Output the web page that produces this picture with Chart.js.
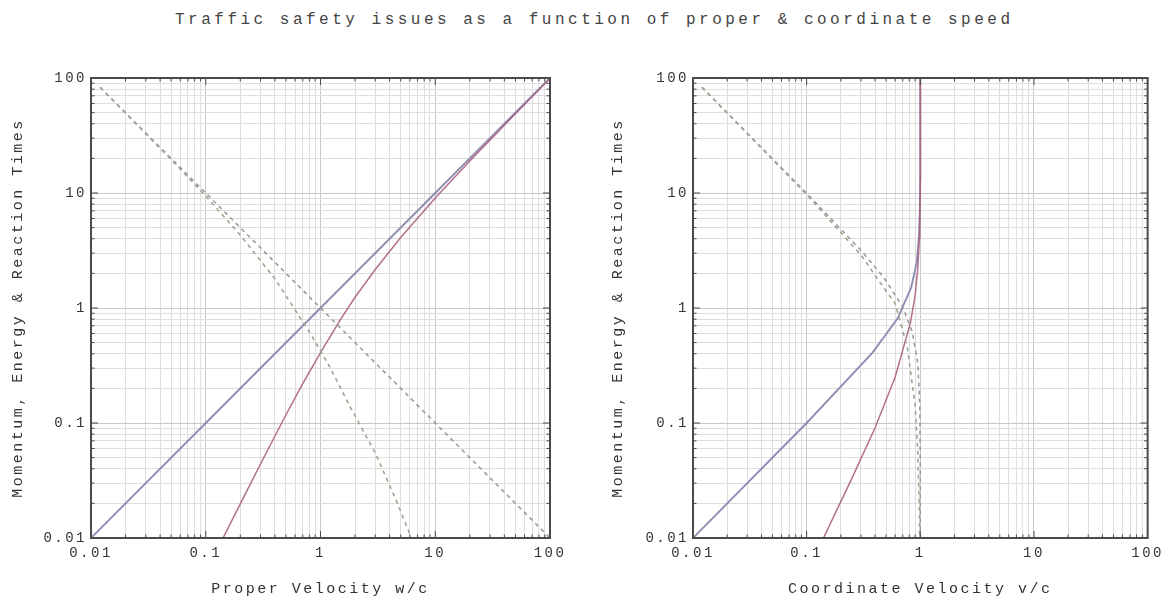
<!DOCTYPE html>
<html><head><meta charset="utf-8">
<script src="https://cdn.jsdelivr.net/npm/chart.js@4.4.1/dist/chart.umd.min.js"></script>
<style>
html,body{margin:0;padding:0;background:#fff;width:1171px;height:602px;overflow:hidden;position:relative}
#title{position:absolute;left:175px;top:12px;font:16px/16px "Liberation Mono",monospace;letter-spacing:3.5px;color:#444;white-space:nowrap}
canvas{position:absolute;top:0}
</style></head><body>
<div id="title">Traffic safety issues as a function of proper &amp; coordinate speed</div>
<canvas id="left" width="585" height="602" style="left:0"></canvas>
<canvas id="right" width="586" height="602" style="left:585px"></canvas>
<script>
// ---- tick values / labels ----
const decadeTicks = [0.01, 0.1, 1, 10, 100];
const tickLabels = ['0.01', '0.1', '1', '10', '100'];
const minorMultipliers = [1, 2, 3, 4, 5, 6, 7, 8, 9];
const yTitle = 'Momentum, Energy & Reaction Times';
const leftXTitle = 'Proper Velocity w/c';
const rightXTitle = 'Coordinate Velocity v/c';

// ---- left panel: proper velocity w/c ----
const leftMomentumX = [0.01, 0.1, 1, 10, 100];
const leftMomentumY = [0.01, 0.1, 1, 10, 100];
const leftEnergyX = [0.14, 0.2, 0.3, 0.5, 0.7, 1, 1.5, 2, 3, 5, 10, 20, 50, 100];
const leftEnergyY = [0.0098, 0.0198, 0.044, 0.118, 0.22, 0.41, 0.80, 1.24, 2.16, 4.1, 9.05, 19, 49, 99];
const leftTimeAX = [0.012, 0.1, 1, 10, 100];
const leftTimeAY = [83, 10, 1, 0.1, 0.01];
const leftTimeBX = [0.012, 0.05, 0.1, 0.2, 0.4, 0.8, 1.2, 1.8, 3, 4.5, 6.2];
const leftTimeBY = [83, 19.5, 9.4, 4.3, 1.8, 0.62, 0.31, 0.14, 0.055, 0.022, 0.01];

// ---- right panel: coordinate velocity v/c ----
const rightMomentumX = [0.01, 0.1, 0.38, 0.63, 0.83, 0.93, 0.97, 0.99, 0.997, 0.9995, 0.99995];
const rightMomentumY = [0.01, 0.1, 0.41, 0.81, 1.5, 2.5, 4.0, 7.0, 12.9, 31.6, 100];
const rightEnergyX = [0.14, 0.25, 0.4, 0.6, 0.82, 0.9, 0.95, 0.98, 0.99, 0.995, 0.999, 0.9999, 0.99995];
const rightEnergyY = [0.0099, 0.033, 0.091, 0.25, 0.75, 1.29, 2.2, 4.03, 6.09, 9.0, 21.4, 69.7, 99];
const rightTimeAX = [0.012, 0.1, 0.3, 0.48, 0.7, 0.85, 0.95, 0.99, 0.999, 0.9999, 0.99995];
const rightTimeAY = [83, 9.95, 3.18, 1.83, 1.02, 0.62, 0.33, 0.142, 0.045, 0.0141, 0.01];
const rightTimeBX = [0.012, 0.1, 0.3, 0.5, 0.6, 0.77, 0.9, 0.95, 0.98, 0.99];
const rightTimeBY = [83, 9.7, 2.9, 1.4, 1.1, 0.45, 0.14, 0.057, 0.018, 0.0075];

const gridValues = decadeTicks.slice(0, -1)
  .flatMap(d => minorMultipliers.map(m => +(d * m).toPrecision(3)))
  .concat([decadeTicks[decadeTicks.length - 1]]);

function isMajor(v) { return decadeTicks.some(d => Math.abs(d - v) / d < 1e-6); }
function labelFor(v) {
  const i = decadeTicks.findIndex(d => Math.abs(d - v) / d < 1e-6);
  return i >= 0 ? tickLabels[i] : '';
}
function pts(xs, ys) { return xs.map((x, i) => ({ x: x, y: ys[i] })); }

const COL_MOM = 'rgba(130,130,172,0.9)';
const COL_EN = 'rgba(172,96,124,0.9)';
const COL_TA = '#9a9a9a';
const COL_TB = '#9ca68c';

function datasets(mx, my, ex, ey, ax, ay, bx, by) {
  return [
    { data: pts(bx, by), borderColor: COL_TB, borderWidth: 1.6, borderDash: [4, 4] },
    { data: pts(ax, ay), borderColor: COL_TA, borderWidth: 1.6, borderDash: [4, 4] },
    { data: pts(ex, ey), borderColor: COL_EN, borderWidth: 1.5 },
    { data: pts(mx, my), borderColor: COL_MOM, borderWidth: 1.9 }
  ].map(d => Object.assign(d, { showLine: true, pointRadius: 0, tension: 0, clip: 0, fill: false }));
}

const spacing = '2.5px';
const framePlugin = {
  id: 'frame',
  beforeUpdate(chart) { chart.ctx.letterSpacing = spacing; },
  beforeLayout(chart) { chart.ctx.letterSpacing = spacing; },
  beforeDraw(chart) { chart.ctx.letterSpacing = spacing; },
  afterDatasetsDraw(chart) {
    const { ctx, chartArea: a, scales: { x, y } } = chart;
    ctx.save();
    ctx.strokeStyle = '#4a4a4a';
    ctx.lineWidth = 1;
    ctx.beginPath();
    gridValues.forEach(v => {
      const len = isMajor(v) ? 7 : 3.5;
      const px = x.getPixelForValue(v), py = y.getPixelForValue(v);
      ctx.moveTo(px, a.bottom); ctx.lineTo(px, a.bottom - len);
      ctx.moveTo(px, a.top); ctx.lineTo(px, a.top + len);
      ctx.moveTo(a.left, py); ctx.lineTo(a.left + len, py);
      ctx.moveTo(a.right, py); ctx.lineTo(a.right - len, py);
    });
    ctx.stroke();
    ctx.lineWidth = 2;
    ctx.strokeRect(a.left, a.top, a.right - a.left, a.bottom - a.top);
    ctx.restore();
  }
};

function axis(extra, pad) {
  return Object.assign({
    type: 'logarithmic', min: 0.01, max: 100,
    afterBuildTicks: s => { s.ticks = gridValues.map(v => ({ value: v })); },
    grid: { color: c => (c.tick && isMajor(c.tick.value)) ? '#c8c8c8' : '#dedede', lineWidth: 1, drawTicks: false },
    border: { display: false },
    ticks: { autoSkip: false, maxRotation: 0, minRotation: 0, padding: pad, color: '#333', font: { size: 14 }, callback: v => labelFor(v) }
  }, extra);
}

function makeOptions(yWidth, yTitlePad, padRight, xTitle) {
  return {
    responsive: false, animation: false, devicePixelRatio: 1,
    layout: { padding: { left: 0, right: padRight, top: 78, bottom: 0 } },
    plugins: { legend: { display: false }, tooltip: { enabled: false }, title: { display: false } },
    scales: {
      x: axis({
        afterFit: s => { s.height = 64; },
        title: { display: true, text: xTitle, color: '#333', font: { size: 15 }, padding: { top: 0, bottom: 4 } }
      }, 7),
      y: axis({
        afterFit: s => { s.width = yWidth; },
        title: { display: true, text: yTitle, color: '#333', font: { size: 15 }, padding: { top: yTitlePad, bottom: 0 } }
      }, 4)
    }
  };
}

Chart.defaults.font.family = '"Liberation Mono", monospace';
Chart.defaults.color = '#333';

new Chart(document.getElementById('left'), {
  type: 'scatter',
  data: { datasets: datasets(leftMomentumX, leftMomentumY, leftEnergyX, leftEnergyY, leftTimeAX, leftTimeAY, leftTimeBX, leftTimeBY) },
  options: makeOptions(91, 9.5, 35, leftXTitle),
  plugins: [framePlugin]
});
new Chart(document.getElementById('right'), {
  type: 'scatter',
  data: { datasets: datasets(rightMomentumX, rightMomentumY, rightEnergyX, rightEnergyY, rightTimeAX, rightTimeAY, rightTimeBX, rightTimeBY) },
  options: makeOptions(108, 24, 18, rightXTitle),
  plugins: [framePlugin]
});
</script>
</body></html>
